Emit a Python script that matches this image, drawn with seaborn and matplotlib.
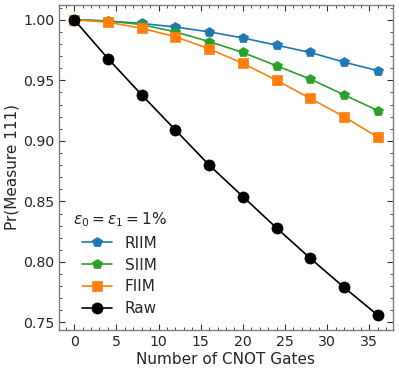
import numpy as np
import pandas as pd
import matplotlib
matplotlib.use("Agg")
import matplotlib.pyplot as plt
from matplotlib.ticker import MultipleLocator
import seaborn as sns

# data
gates = [0, 4, 8, 12, 16, 20, 24, 28, 32, 36]
riim = [1.000, 0.999, 0.997, 0.994, 0.990, 0.985, 0.979, 0.973, 0.965, 0.958]
siim = [1.000, 0.999, 0.996, 0.990, 0.982, 0.973, 0.962, 0.951, 0.938, 0.925]
fiim = [1.000, 0.998, 0.993, 0.986, 0.976, 0.964, 0.950, 0.935, 0.920, 0.903]
raw = [1.000, 0.968, 0.938, 0.909, 0.880, 0.854, 0.828, 0.803, 0.779, 0.756]

series = [
    ("RIIM", riim, "tab:blue", "p", 7.5),
    ("SIIM", siim, "tab:green", "p", 7.5),
    ("FIIM", fiim, "tab:orange", "s", 7),
    ("Raw", raw, "black", "o", 8),
]

sns.set_style("ticks")
plt.rcParams["font.family"] = ["DejaVu Sans"]
plt.rcParams["mathtext.fontset"] = "dejavusans"

fig = plt.figure(figsize=(3.99, 3.71), dpi=100)
ax = fig.add_axes([59 / 399, 41 / 371, 334 / 399, 325 / 371])

for name, vals, col, mk, ms in series:
    df = pd.DataFrame({"x": gates, "y": vals})
    sns.lineplot(data=df, x="x", y="y", ax=ax, color=col, marker=mk,
                 markersize=ms, markeredgewidth=0.5, markeredgecolor=col,
                 linewidth=1.2, label=name)

ax.set_xlabel("Number of CNOT Gates", fontsize=11, labelpad=2)
ax.set_ylabel("Pr(Measure 111)", fontsize=11, labelpad=2)
ax.set_xticks([0, 5, 10, 15, 20, 25, 30, 35])
ax.set_yticks([0.75, 0.80, 0.85, 0.90, 0.95, 1.00])
ax.xaxis.set_minor_locator(MultipleLocator(1))
ax.yaxis.set_minor_locator(MultipleLocator(0.01))
ax.tick_params(which="both", direction="in", top=True, right=True,
               labelsize=10.2, color="0.2")
ax.tick_params(which="major", length=4, width=0.8)
ax.tick_params(which="minor", length=2, width=0.6)
for sp in ax.spines.values():
    sp.set_color("0.5")
    sp.set_linewidth(1.0)

leg = ax.legend(title=r"$\epsilon_0 = \epsilon_1 = 1\%$", loc="lower left",
                frameon=False, fontsize=11, title_fontsize=11,
                handlelength=2.0, labelspacing=0.45,
                bbox_to_anchor=(0.0, 0.0))

fig.savefig("out.png", dpi=100)
